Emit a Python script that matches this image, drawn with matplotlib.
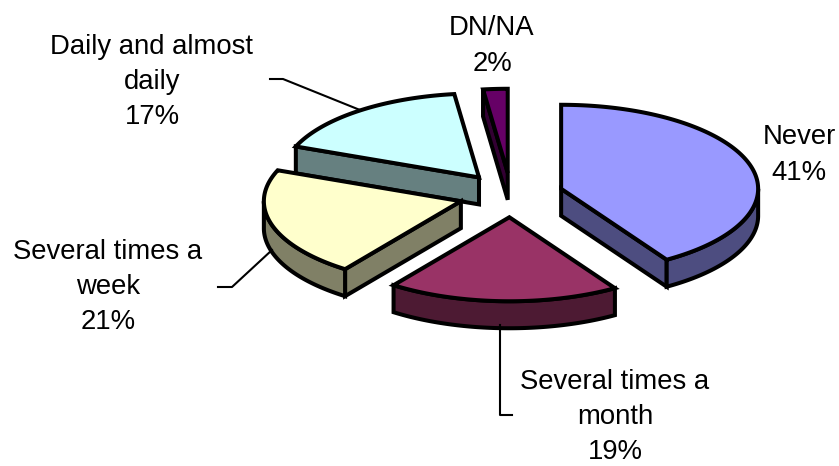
import numpy as np
import matplotlib
matplotlib.use('Agg')
import matplotlib.pyplot as plt
from matplotlib.patches import Polygon

plt.rcParams['font.family'] = ['Liberation Sans', 'DejaVu Sans']

categories = ['Never', 'Several times a\nmonth', 'Several times a\nweek', 'Daily and almost\ndaily', 'DN/NA']
values = [41, 19, 21, 17, 2]
top_colors = ['#9999FF', '#993366', '#FFFFCC', '#CCFFFF', '#660066']
side_colors = ['#4D4D80', '#4D1A33', '#808066', '#668080', '#330033']

# pie geometry, in pixels
cx, cy = 511, 195
rx, ry = 197, 84
depth = 27
explode = 0.265
edge_lw = 2.9

label_pos = [(799, 155), (615, 417), (108, 287), (152, 82), (492, 46)]
draw_order = [4, 3, 0, 2, 1]


def rim(theta, ox, oy):
    # theta is measured clockwise from twelve o'clock
    return np.column_stack([ox + rx * np.sin(theta), oy - ry * np.cos(theta)])


def draw_slice(ax, start, end, top, side):
    mid = (start + end) / 2
    ox = cx + explode * rx * np.sin(mid)
    oy = cy - explode * ry * np.cos(mid)
    style = dict(edgecolor='black', linewidth=edge_lw, joinstyle='miter')
    drop = np.array([0, depth])
    apex = np.array([[ox, oy]])

    # radial walls, only when they face the viewer
    for a, facing in ((start, np.sin(start) < -1e-9), (end, np.sin(end) > 1e-9)):
        if facing:
            p = rim(np.array([a]), ox, oy)
            wall = np.vstack([apex, p, p + drop, apex + drop])
            ax.add_patch(Polygon(wall, closed=True, facecolor=side, **style))

    # outer wall, only on the front half of the ellipse
    lo, hi = max(start, np.pi / 2), min(end, 3 * np.pi / 2)
    if hi > lo:
        arc = rim(np.linspace(lo, hi, 80), ox, oy)
        ax.add_patch(Polygon(np.vstack([arc, arc[::-1] + drop]), closed=True,
                             facecolor=side, **style))

    arc = rim(np.linspace(start, end, 120), ox, oy)
    ax.add_patch(Polygon(np.vstack([apex, arc]), closed=True, facecolor=top, **style))


fig = plt.figure(figsize=(8.39, 4.66), dpi=100)
ax = fig.add_axes([0, 0, 1, 1])
ax.set_xlim(0, 839)
ax.set_ylim(466, 0)
ax.axis('off')

# leader lines
ax.plot([360, 283, 270], [110, 79, 79], color='black', lw=1.5)
ax.plot([272, 232, 218], [250, 287, 287], color='black', lw=1.5)
ax.plot([500, 500, 512], [325, 415, 415], color='black', lw=1.5)

edges = np.cumsum([0] + values) / sum(values) * 2 * np.pi
for i in draw_order:
    draw_slice(ax, edges[i], edges[i + 1], top_colors[i], side_colors[i])

for name, val, (x, y) in zip(categories, values, label_pos):
    ax.text(x, y, f'{name}\n{val}%', ha='center', va='center', fontsize=19.8,
            linespacing=1.46, color='black')

fig.savefig('out.png', dpi=100)
